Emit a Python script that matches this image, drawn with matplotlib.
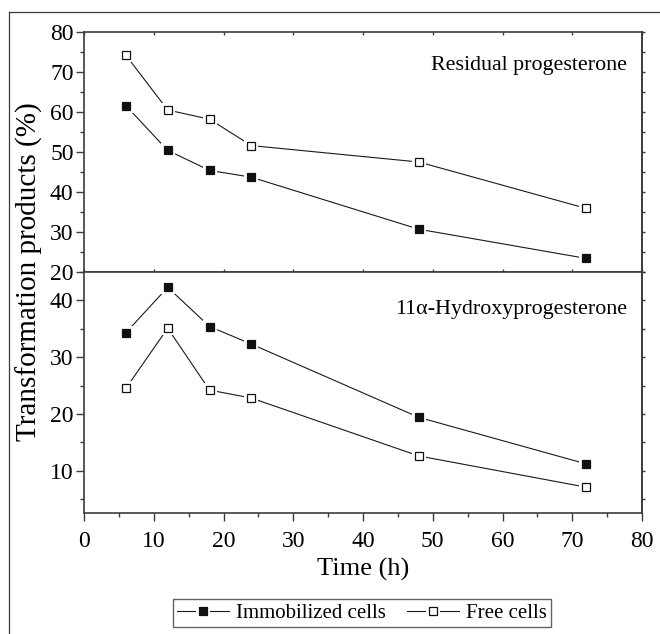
#!/usr/bin/env python3
"""Progesterone transformation by immobilized and free cells over time."""
import matplotlib

matplotlib.use("Agg")
import matplotlib.pyplot as plt
from matplotlib.legend_handler import HandlerTuple
from matplotlib.lines import Line2D
from matplotlib.ticker import MultipleLocator

TIME_H = [6, 12, 18, 24, 48, 72]

RESIDUAL_IMMOBILIZED = [61.6, 50.4, 45.4, 43.7, 30.7, 23.4]
RESIDUAL_FREE = [74.2, 60.5, 58.2, 51.6, 47.5, 35.9]

HYDROXY_IMMOBILIZED = [34.3, 42.3, 35.4, 32.3, 19.4, 11.2]
HYDROXY_FREE = [24.5, 35.1, 24.2, 22.8, 12.6, 7.1]

SERIES_LABELS = ["Immobilized cells", "Free cells"]
PANEL_TITLES = ["Residual progesterone", "11\u03b1-Hydroxyprogesterone"]

SPINE = "#3c3c3c"
FONT = ["Liberation Serif", "DejaVu Serif"]

plt.rcParams["font.family"] = FONT
plt.rcParams["font.size"] = 17


def draw_series(axis, x, y, filled):
    axis.plot(x, y, color="#1a1a1a", linewidth=0.8, zorder=2)
    axis.plot(x, y, linestyle="none", marker="s", markersize=9.5,
              markerfacecolor="white", markeredgewidth=0, zorder=3)
    axis.plot(x, y, linestyle="none", marker="s", markersize=5.4,
              markerfacecolor="#111111" if filled else "white",
              markeredgecolor="#111111", markeredgewidth=0.9, zorder=4)


def style_axis(axis):
    for spine in axis.spines.values():
        spine.set_color(SPINE)
        spine.set_linewidth(1.2)
    axis.yaxis.set_major_locator(MultipleLocator(10))
    axis.yaxis.set_minor_locator(MultipleLocator(5))
    axis.tick_params(axis="y", which="major", direction="out", length=6,
                     width=1.0, color=SPINE, pad=1.5, labelsize=17)
    axis.tick_params(axis="y", which="minor", direction="out", length=3,
                     width=1.0, color=SPINE)
    right = axis.secondary_yaxis("right")
    right.yaxis.set_major_locator(MultipleLocator(5))
    right.tick_params(direction="out", length=2.5, width=1.0, color=SPINE,
                      labelright=False)
    right.spines["right"].set_color(SPINE)
    right.spines["right"].set_linewidth(1.2)


figure = plt.figure(figsize=(6.6, 6.34), dpi=100)
left, width = 84 / 660, 558 / 660
top_axis = figure.add_axes([left, 1 - 272 / 634, width, 240 / 634])
bottom_axis = figure.add_axes([left, 1 - 513.3 / 634, width, 241.3 / 634],
                              sharex=top_axis)

draw_series(top_axis, TIME_H, RESIDUAL_IMMOBILIZED, True)
draw_series(top_axis, TIME_H, RESIDUAL_FREE, False)
draw_series(bottom_axis, TIME_H, HYDROXY_IMMOBILIZED, True)
draw_series(bottom_axis, TIME_H, HYDROXY_FREE, False)

top_axis.set_xlim(0, 80)
top_axis.set_ylim(20, 80)
bottom_axis.set_ylim(2.5, 45)

for axis in (top_axis, bottom_axis):
    style_axis(axis)

top_axis.xaxis.set_major_locator(MultipleLocator(10))
top_axis.tick_params(axis="x", which="major", direction="in", top=True,
                     bottom=True, length=2.5, width=1.0, color=SPINE,
                     labelbottom=False)
top_axis.tick_params(axis="x", which="minor", bottom=False, top=False)

bottom_axis.xaxis.set_minor_locator(MultipleLocator(5))
bottom_axis.tick_params(axis="x", which="major", direction="out", length=6,
                        width=1.0, color=SPINE, labelsize=17, pad=7,
                        labelbottom=True)
bottom_axis.tick_params(axis="x", which="minor", direction="out", length=3,
                        width=1.0, color=SPINE)
bottom_axis.set_yticks([10, 20, 30, 40])

top_axis.text(0.974, 0.86, PANEL_TITLES[0], transform=top_axis.transAxes,
              ha="right", va="center", fontsize=15.8)
bottom_axis.text(0.974, 0.845, PANEL_TITLES[1], transform=bottom_axis.transAxes,
                 ha="right", va="center", fontsize=15.8)

bottom_axis.set_xlabel("Time (h)", fontsize=19, labelpad=4)
figure.text(29 / 660, 1 - 272 / 634, "Transformation products (%)",
            rotation=90, ha="center", va="center", fontsize=21)

handles = []
for filled in (True, False):
    line = Line2D([], [], color="#1a1a1a", linewidth=0.8)
    gap = Line2D([], [], linestyle="none", marker="s", markersize=9.5,
                 markerfacecolor="white", markeredgewidth=0)
    mark = Line2D([], [], linestyle="none", marker="s", markersize=5.4,
                  markerfacecolor="#111111" if filled else "white",
                  markeredgecolor="#111111", markeredgewidth=0.9)
    handles.append((line, gap, mark))

legend = figure.legend(handles, SERIES_LABELS, loc="center",
                       bbox_to_anchor=(362 / 660, 1 - 613 / 634), ncol=2,
                       handler_map={tuple: HandlerTuple(ndivide=1, pad=0)},
                       frameon=True, fancybox=False, fontsize=15,
                       handlelength=2.5, handletextpad=0.35,
                       columnspacing=1.0, borderpad=0.2, borderaxespad=0)
legend.get_frame().set_edgecolor(SPINE)
legend.get_frame().set_linewidth(1.0)

frame_x = 9 / 660
frame_y = 1 - 11.7 / 634
figure.add_artist(Line2D([frame_x, frame_x], [0, frame_y], color=SPINE,
                         linewidth=0.9, transform=figure.transFigure))
figure.add_artist(Line2D([frame_x, 1], [frame_y, frame_y], color=SPINE,
                         linewidth=0.9, transform=figure.transFigure))

figure.savefig("out.png", dpi=100)
